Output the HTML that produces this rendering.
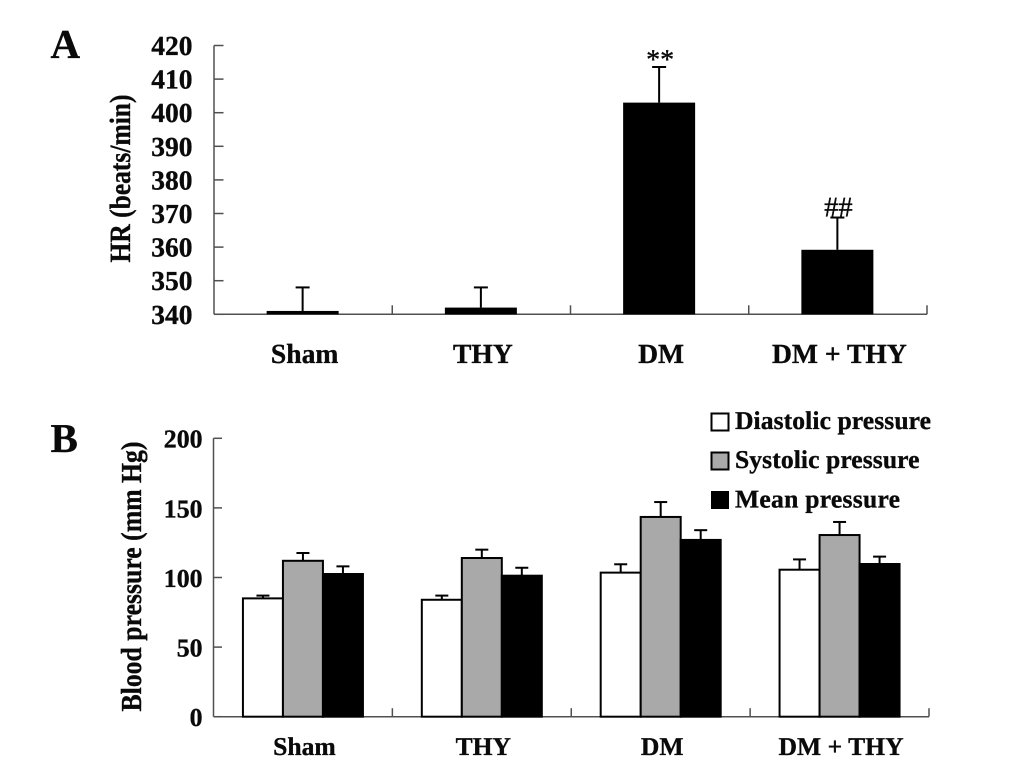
<!DOCTYPE html>
<html lang="en">
<head>
<meta charset="utf-8">
<title>Heart rate and blood pressure bar charts</title>
<style>
html,body{margin:0;padding:0;background:#fff;width:1033px;height:780px;overflow:hidden}
svg{display:block}
text{font-family:"Liberation Serif","DejaVu Serif",serif;font-weight:bold;fill:#0a0a0a;stroke:#0a0a0a;stroke-width:.35px;text-rendering:geometricPrecision}
</style>
</head>
<body>
<svg id="figure" width="1033" height="780" viewBox="0 0 1033 780" xmlns="http://www.w3.org/2000/svg">
  <rect x="0" y="0" width="1033" height="780" fill="#fff"/>
  <text x="50.5" y="58" font-size="41">A</text>
  <text x="50.5" y="452" font-size="41">B</text>
  <text transform="translate(130 262.5) rotate(-90)" font-size="29.5" textLength="168" lengthAdjust="spacingAndGlyphs">HR (beats/min)</text>
  <text transform="translate(141 711.5) rotate(-90)" font-size="29" textLength="270" lengthAdjust="spacingAndGlyphs">Blood pressure (mm Hg)</text>
  <g>
    <rect x="711.5" y="413.5" width="17" height="17" fill="#fff" stroke="#000" stroke-width="2"/>
    <text x="735" y="429" font-size="25.6" textLength="196" lengthAdjust="spacing">Diastolic pressure</text>
    <rect x="711.5" y="452.5" width="17" height="17" fill="#a9a9a9" stroke="#000" stroke-width="2"/>
    <text x="735" y="468" font-size="25.6" textLength="184.5" lengthAdjust="spacing">Systolic pressure</text>
    <rect x="711" y="491" width="18" height="18" fill="#000"/>
    <text x="735" y="507.5" font-size="25.6" textLength="165" lengthAdjust="spacing">Mean pressure</text>
  </g>
</svg>
<script>
// Panel A data
const hrCategories = ['Sham', 'THY', 'DM', 'DM + THY'];
const hrValues = [341, 342, 403, 359.2];
const hrErrorTops = [348, 348, 413.6, 368.8];
const hrTicks = [340, 350, 360, 370, 380, 390, 400, 410, 420];
const hrMarkers = ['', '', '**', '##'];

// Panel B data
const bpCategories = ['Sham', 'THY', 'DM', 'DM + THY'];
const bpSeriesNames = ['diastolic', 'systolic', 'mean'];
const bpDiastolic = [85, 84, 103.5, 105.6];
const bpSystolic = [112, 114, 143.5, 130.5];
const bpMean = [102.5, 101.3, 127, 109.7];
const bpDiastolicErrorTops = [87, 87, 109.5, 113];
const bpSystolicErrorTops = [117.6, 120, 154.2, 139.9];
const bpMeanErrorTops = [108, 107, 134, 115];
const bpTicks = [0, 50, 100, 150, 200];

const NS = 'http://www.w3.org/2000/svg';
const svg = document.getElementById('figure');

function line(parent, name, x1, y1, x2, y2, color, width) {
  const el = document.createElementNS(NS, 'line');
  
  
  el.setAttribute('x1', x1);
  el.setAttribute('y1', y1);
  el.setAttribute('x2', x2);
  el.setAttribute('y2', y2);
  el.setAttribute('stroke', color);
  el.setAttribute('stroke-width', width);
  parent.appendChild(el);
  return el;
}
function label(parent, name, x, y, str, size, anchor, weight) {
  const el = document.createElementNS(NS, 'text');
  
  
  el.setAttribute('x', x);
  el.setAttribute('y', y);
  el.setAttribute('font-size', size);
  el.setAttribute('text-anchor', anchor);
  if (weight) el.style.fontWeight = weight;
  el.textContent = str;
  parent.appendChild(el);
  return el;
}
function bar(parent, name, x, y, w, h, fill, stroke) {
  const el = document.createElementNS(NS, 'rect');
  
  
  el.setAttribute('x', x);
  el.setAttribute('y', y);
  el.setAttribute('width', w);
  el.setAttribute('height', Math.max(h, 0));
  el.setAttribute('fill', fill);
  if (stroke) {
    el.setAttribute('stroke', '#000');
    el.setAttribute('stroke-width', 2);
  }
  parent.appendChild(el);
  return el;
}
function group(name) {
  const el = document.createElementNS(NS, 'g');
  
  
  svg.appendChild(el);
  return el;
}
function errorBar(parent, name, cx, yTop, yBase, capW) {
  line(parent, name + '-stem', cx, yTop, cx, yBase, '#000', 2);
  line(parent, name + '-cap', cx - capW / 2, yTop, cx + capW / 2, yTop, '#000', 2);
}

const axisColor = '#505050';

// Panel A axes
const ax = { left: 214, right: 927, top: 45.5, bottom: 314.3 };
const axMin = hrTicks[0];
const axMax = hrTicks[hrTicks.length - 1];
const hrY = v => ax.bottom - (v - axMin) / (axMax - axMin) * (ax.bottom - ax.top);
const hrBand = (ax.right - ax.left) / hrCategories.length;
const hrX = i => ax.left + hrBand * (i + 0.5);

const gA = group('panel-a-chart');
const gAbars = group('panel-a-bars');
hrCategories.forEach((c, i) => {
  const cx = hrX(i) - 0.5;
  const slug = c.toLowerCase().replace(/[^a-z]+/g, '-');
  errorBar(gAbars, 'hr-error-' + slug, cx, hrY(hrErrorTops[i]), hrY(hrValues[i]), 14);
  bar(gAbars, 'hr-bar-' + slug, cx - 36, hrY(hrValues[i]), 72, ax.bottom - hrY(hrValues[i]), '#000', false);
  label(gA, 'hr-category-label-' + slug, cx + 2, 363, c, 27.6, 'middle');
  if (hrMarkers[i]) {
    const isStar = hrMarkers[i] === '**';
    label(gAbars, 'hr-significance-' + slug, cx + 1, hrY(hrErrorTops[i]) + (isStar ? 1.5 : -1), hrMarkers[i], isStar ? 28 : 28.5, 'middle', 'normal');
  }
});
line(gA, 'panel-a-y-axis', ax.left, ax.top, ax.left, ax.bottom, axisColor, 1.5);
line(gA, 'panel-a-x-axis', ax.left, ax.bottom, ax.right, ax.bottom, axisColor, 1.5);
hrTicks.forEach(t => {
  line(gA, 'hr-y-tick-' + t, ax.left, hrY(t), ax.left + 9.5, hrY(t), axisColor, 1.5);
  label(gA, 'hr-y-tick-label-' + t, 192.5, hrY(t) + 9.5, String(t), 27.5, 'end');
});
hrCategories.forEach((c, i) => {
  const tx = ax.left + hrBand * (i + 1);
  line(gA, 'hr-x-tick-' + (i + 1), tx, ax.bottom, tx, ax.bottom - 9, axisColor, 1.5);
});

// Panel B axes
const bx = { left: 213.5, right: 929, top: 438.3, bottom: 716.7 };
const bxMax = bpTicks[bpTicks.length - 1];
const bpY = v => bx.bottom - v / bxMax * (bx.bottom - bx.top);
const bpBand = (bx.right - bx.left) / bpCategories.length;
const bpX = i => bx.left + bpBand * (i + 0.5);
const bpBarW = 40;
const bpFills = ['#fff', '#a9a9a9', '#000'];
const bpValues = [bpDiastolic, bpSystolic, bpMean];
const bpErrors = [bpDiastolicErrorTops, bpSystolicErrorTops, bpMeanErrorTops];

const gB = group('panel-b-chart');
const gBbars = group('panel-b-bars');
bpCategories.forEach((c, i) => {
  const slug = c.toLowerCase().replace(/[^a-z]+/g, '-');
  const start = bpX(i) - bpBarW * 1.5;
  bpSeriesNames.forEach((s, j) => {
    const x = start + bpBarW * j;
    const v = bpValues[j][i];
    errorBar(gBbars, 'bp-error-' + slug + '-' + s, x + bpBarW / 2, bpY(bpErrors[j][i]), bpY(v), 13);
  });
  bpSeriesNames.forEach((s, j) => {
    const x = start + bpBarW * j;
    const v = bpValues[j][i];
    bar(gBbars, 'bp-bar-' + slug + '-' + s, x, bpY(v), bpBarW, bx.bottom - bpY(v), bpFills[j], true);
  });
  label(gB, 'bp-category-label-' + slug, bpX(i) + 1.5, 755, c, 25.6, 'middle');
});
line(gB, 'panel-b-y-axis', bx.left, bx.top, bx.left, bx.bottom, axisColor, 1.5);
line(gB, 'panel-b-x-axis', bx.left, bx.bottom, bx.right, bx.bottom, axisColor, 1.5);
bpTicks.forEach(t => {
  line(gB, 'bp-y-tick-' + t, bx.left, bpY(t), bx.left + 8.5, bpY(t), axisColor, 1.5);
  label(gB, 'bp-y-tick-label-' + t, 202.5, bpY(t) + 9.4, String(t), 25.8, 'end');
});
bpCategories.forEach((c, i) => {
  const tx = bx.left + bpBand * (i + 1);
  line(gB, 'bp-x-tick-' + (i + 1), tx, bx.bottom, tx, bx.bottom - 8.5, axisColor, 1.5);
});
</script>
</body>
</html>
